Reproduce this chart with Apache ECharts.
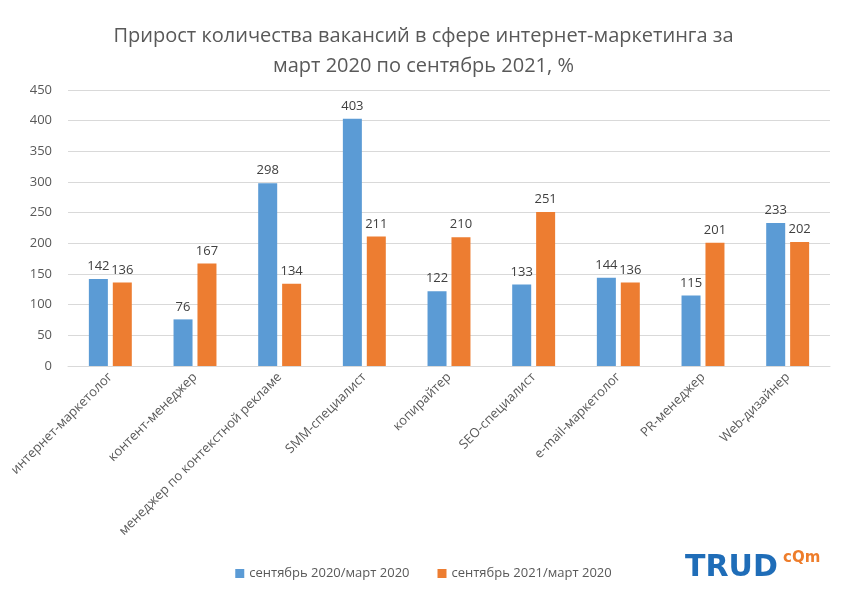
<!DOCTYPE html>
<html>
<head>
<meta charset="utf-8">
<script src="https://cdn.jsdelivr.net/npm/echarts@6/dist/echarts.min.js"></script>
<style>
  html, body { margin: 0; padding: 0; background: #fff; }
  #chart { width: 847px; height: 599px; }
</style>
</head>
<body>
<div id="chart"></div>
<script>
// категории и значения
var categories = [
  'интернет-маркетолог',
  'контент-менеджер',
  'менеджер по контекстной рекламе',
  'SMM-специалист',
  'копирайтер',
  'SEO-специалист',
  'e-mail-маркетолог',
  'PR-менеджер',
  'Web-дизайнер'
];
var sep2020 = [142, 76, 298, 403, 122, 133, 144, 115, 233];
var sep2021 = [136, 167, 134, 211, 210, 251, 136, 201, 202];
var seriesNames = ['сентябрь 2020/март 2020', 'сентябрь 2021/март 2020'];

var chart = echarts.init(document.getElementById('chart'), null, { renderer: 'canvas' });

var labelStyle = {
  show: true,
  position: 'top',
  distance: 6,
  color: '#404040',
  fontSize: 13,
  fontFamily: 'Open Sans, sans-serif'
};

var option = {
  animation: false,
  color: ['#5B9BD5', '#ED7D31'],
  title: {
    text: 'Прирост количества вакансий в сфере интернет-маркетинга за\nмарт 2020 по сентябрь 2021, %',
    left: 'center',
    top: 16,
    textStyle: {
      color: '#595959',
      fontSize: 20,
      fontWeight: 'normal',
      lineHeight: 30,
      fontFamily: 'Liberation Sans Narrow, Open Sans, sans-serif'
    }
  },
  legend: {
    bottom: 14,
    left: 'center',
    itemWidth: 9,
    itemHeight: 9,
    itemGap: 28,
    itemTextGap: 4,
    icon: 'rect',
    textStyle: { color: '#595959', fontSize: 13, fontFamily: 'Open Sans, sans-serif' },
    data: seriesNames
  },
  grid: { left: 68, right: 17, top: 90, bottom: 233, containLabel: false },
  xAxis: {
    type: 'category',
    data: categories,
    axisLine: { lineStyle: { color: '#D9D9D9' } },
    axisTick: { show: false },
    axisLabel: {
      rotate: 45,
      interval: 0,
      color: '#595959',
      fontSize: 13,
      margin: 9,
      fontFamily: 'Open Sans, sans-serif'
    }
  },
  yAxis: {
    type: 'value',
    min: 0,
    max: 450,
    interval: 50,
    axisLine: { show: false },
    axisTick: { show: false },
    splitLine: { lineStyle: { color: '#D9D9D9' } },
    axisLabel: { color: '#595959', fontSize: 13, margin: 16, fontFamily: 'Open Sans, sans-serif' }
  },
  series: [
    {
      name: seriesNames[0],
      type: 'bar',
      data: sep2020,
      barWidth: 19,
      barGap: '26%',
      label: labelStyle
    },
    {
      name: seriesNames[1],
      type: 'bar',
      data: sep2021,
      barWidth: 19,
      label: labelStyle
    }
  ],
  // логотип
  graphic: [
    {
      type: 'text',
      left: 685,
      top: 553,
      style: {
        text: 'TRUD',
        fill: '#1F6DB8',
        font: 'bold 30px "DejaVu Sans", sans-serif'
      }
    },
    {
      type: 'text',
      left: 783,
      top: 551,
      style: {
        text: 'cQm',
        fill: '#EE7D2B',
        font: 'bold 15px "DejaVu Sans", sans-serif'
      }
    }
  ]
};

chart.setOption(option);
</script>
</body>
</html>
